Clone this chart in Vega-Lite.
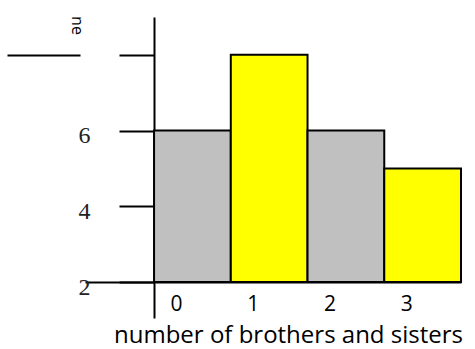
{
  "$schema": "https://vega.github.io/schema/vega-lite/v6.json",
  "width": 376,
  "height": 301,
  "autosize": "none",
  "padding": {"left": 85, "top": 17, "right": 14, "bottom": 31},
  "background": "white",
  "config": {"view": {"stroke": null}},
  "data": {"values": [
    {"siblings": "0", "freq": 6},
    {"siblings": "1", "freq": 8},
    {"siblings": "2", "freq": 6},
    {"siblings": "3", "freq": 5}
  ]},
  "resolve": {"axis": {"y": "independent"}},
  "layer": [
    {
      "mark": {"type": "bar", "stroke": "black", "strokeWidth": 2},
      "encoding": {
        "x": {
          "field": "siblings", "type": "ordinal",
          "scale": {"paddingInner": 0, "paddingOuter": 0.45, "align": 1},
          "axis": {
            "title": "number of brothers and sisters",
            "labelAngle": 0, "offset": -36, "ticks": false,
            "labelOffset": -16, "labelPadding": 11,
            "labelFont": "Open Sans", "labelFontSize": 21, "labelColor": "black",
            "domainColor": "black", "domainWidth": 2,
            "titleFont": "Open Sans", "titleFontSize": 24, "titleFontWeight": "normal",
            "titleColor": "black", "titleX": 203, "titleY": 60, "titleBaseline": "alphabetic"
          }
        },
        "y": {
          "field": "freq", "type": "quantitative",
          "scale": {"domain": [1.05, 9.0], "nice": false, "zero": false},
          "axis": {
            "orient": "left",
            "values": [2, 4, 6, 8],
            "labelExpr": "datum.value == 8 ? '' : datum.label",
            "offset": -69, "tickSize": 35, "tickWidth": 2, "tickColor": "black",
            "domainColor": "black", "domainWidth": 2,
            "labelFont": "Liberation Serif", "labelFontSize": 24, "labelColor": "#222222",
            "labelPadding": 29, "labelOffset": 5, "grid": false, "title": null
          }
        },
        "y2": {"datum": 2},
        "color": {
          "field": "siblings", "type": "nominal",
          "scale": {"range": ["#c0c0c0", "#ffff00", "#c0c0c0", "#ffff00"]},
          "legend": null
        }
      }
    },
    {
      "mark": {"type": "point", "opacity": 0},
      "encoding": {
        "x": {"field": "siblings", "type": "ordinal"},
        "y": {
          "field": "freq", "type": "quantitative",
          "scale": {"domain": [1.05, 9.0], "nice": false, "zero": false},
          "axis": {
            "orient": "left",
            "values": [8], "labels": false, "domain": false,
            "offset": 5, "tickSize": 73, "tickWidth": 2, "tickColor": "black",
            "grid": false,
            "title": "ne", "titleAngle": 90, "titleFont": "Open Sans",
            "titleFontSize": 16, "titleFontWeight": "normal", "titleColor": "black",
            "titleX": -4, "titleY": 8, "titleAlign": "center", "titleBaseline": "middle"
          }
        }
      }
    }
  ]
}
